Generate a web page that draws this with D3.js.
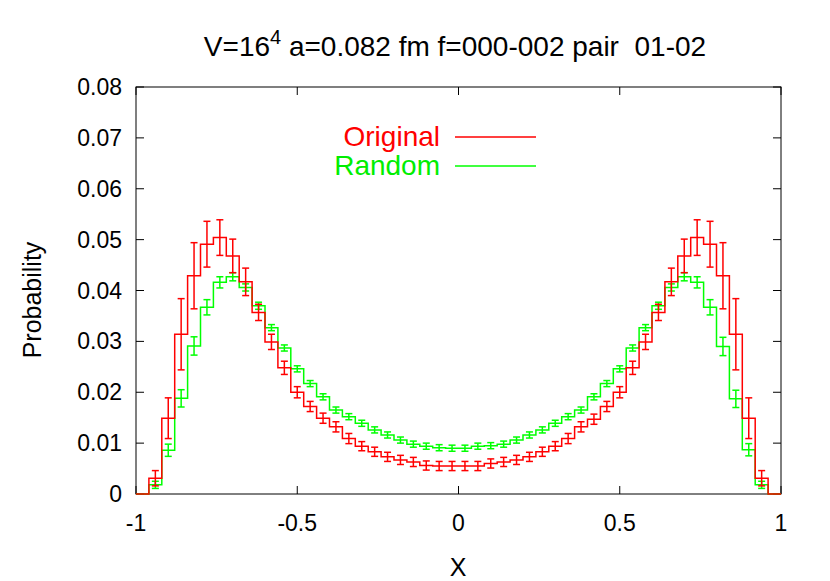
<!DOCTYPE html>
<html><head><meta charset="utf-8">
<script src="https://cdn.jsdelivr.net/npm/d3@7"></script>
<style>body{margin:0;background:#fff}svg{font-family:"Liberation Sans",Arial,sans-serif}</style>
</head><body><svg id="c" width="830" height="581"></svg>
<script>
var binEdges = d3.range(51).map(function (i) { return -1 + i * 0.04; });
var leftRed = [0, 0.0031, 0.0149, 0.0314, 0.0429, 0.0491, 0.0504, 0.0468, 0.0417, 0.0357, 0.0299, 0.0248, 0.0200, 0.0172, 0.0149, 0.0132, 0.0109, 0.0094, 0.0083, 0.0073, 0.0067, 0.0063, 0.0056, 0.0055, 0.0055];
var rightRed = [0.0055, 0.0055, 0.0060, 0.0063, 0.0067, 0.0073, 0.0083, 0.0094, 0.0109, 0.0132, 0.0147, 0.0172, 0.0200, 0.0248, 0.0299, 0.0357, 0.0417, 0.0468, 0.0504, 0.0491, 0.0429, 0.0314, 0.0149, 0.0031, 0];
var leftGreen = [0, 0.0018, 0.0086, 0.0188, 0.0291, 0.0367, 0.0416, 0.0427, 0.0406, 0.0370, 0.0327, 0.0287, 0.0246, 0.0217, 0.0191, 0.0165, 0.0152, 0.0139, 0.0126, 0.0116, 0.0106, 0.0098, 0.0094, 0.0091, 0.0090];
var rightGreen = [0.0090, 0.0094, 0.0095, 0.0098, 0.0106, 0.0116, 0.0126, 0.0139, 0.0152, 0.0165, 0.0191, 0.0217, 0.0246, 0.0287, 0.0327, 0.0370, 0.0406, 0.0427, 0.0416, 0.0367, 0.0290, 0.0187, 0.0087, 0.0018, 0];
var redErrLeft = [0, 0.0015, 0.004, 0.007, 0.0065, 0.0045, 0.0035, 0.0033, 0.0027, 0.0016, 0.0015, 0.0013, 0.0011, 0.001, 0.001, 0.001, 0.001, 0.0009, 0.0009, 0.0009, 0.0009, 0.0009, 0.0009, 0.0009, 0.0009];
var greenErrLeft = [0, 0.0007, 0.0012, 0.0017, 0.0018, 0.0015, 0.0011, 0.0008, 0.0007, 0.0007, 0.0006, 0.0006, 0.0006, 0.0006, 0.0006, 0.0006, 0.0006, 0.0006, 0.0006, 0.0006, 0.0006, 0.0006, 0.0006, 0.0006, 0.0006];
var xTicks = [-1, -0.5, 0, 0.5, 1];
var yTicks = [0, 0.01, 0.02, 0.03, 0.04, 0.05, 0.06, 0.07, 0.08];

var red = leftRed.concat(rightRed);
var green = leftGreen.concat(rightGreen);
var redErr = redErrLeft.concat(redErrLeft.slice().reverse());
var greenErr = greenErrLeft.concat(greenErrLeft.slice().reverse());

var svg = d3.select('#c');
var x = d3.scaleLinear().domain([-1, 1]).range([136, 781]);
var y = d3.scaleLinear().domain([0, 0.08]).range([494, 87]);

svg.append('rect').attr('x', 136).attr('y', 87).attr('width', 645).attr('height', 407)
  .attr('fill', 'none').attr('stroke', '#000').attr('stroke-width', 1);

xTicks.forEach(function (t) {
  svg.append('line').attr('x1', x(t)).attr('x2', x(t)).attr('y1', 494).attr('y2', 486).attr('stroke', '#000');
  svg.append('line').attr('x1', x(t)).attr('x2', x(t)).attr('y1', 87).attr('y2', 95).attr('stroke', '#000');
  svg.append('text').attr('x', x(t)).attr('y', 531).attr('text-anchor', 'middle').attr('font-size', 23).text(t);
});
yTicks.forEach(function (t) {
  svg.append('line').attr('x1', 136).attr('x2', 144).attr('y1', y(t)).attr('y2', y(t)).attr('stroke', '#000');
  svg.append('line').attr('x1', 781).attr('x2', 773).attr('y1', y(t)).attr('y2', y(t)).attr('stroke', '#000');
  svg.append('text').attr('x', 122).attr('y', y(t) + 8).attr('text-anchor', 'end').attr('font-size', 23)
    .text(t === 0 ? '0' : t.toFixed(2));
});

function stepPath(vals) {
  var d = 'M' + x(binEdges[0]) + ',' + y(vals[0]);
  vals.forEach(function (v, i) {
    d += 'V' + y(v) + 'H' + x(binEdges[i + 1]);
  });
  return d;
}

function drawSeries(vals, errs, color) {
  svg.append('path').attr('d', stepPath(vals)).attr('fill', 'none').attr('stroke', color).attr('stroke-width', 1.5);
  vals.forEach(function (v, i) {
    if (!errs[i]) return;
    var cx = x((binEdges[i] + binEdges[i + 1]) / 2);
    var y1 = y(v - errs[i]), y2 = y(v + errs[i]);
    svg.append('line').attr('x1', cx).attr('x2', cx).attr('y1', y1).attr('y2', y2).attr('stroke', color).attr('stroke-width', 1.5);
    [y1, y2].forEach(function (yy) {
      svg.append('line').attr('x1', cx - 3.5).attr('x2', cx + 3.5).attr('y1', yy).attr('y2', yy).attr('stroke', color).attr('stroke-width', 1.5);
    });
  });
}
drawSeries(green, greenErr, '#00ff00');
drawSeries(red, redErr, '#ff0000');

// legend
svg.append('text').attr('x', 440).attr('y', 146).attr('text-anchor', 'end').attr('font-size', 28).attr('fill', '#ff0000').text('Original');
svg.append('line').attr('x1', 455).attr('x2', 536).attr('y1', 137).attr('y2', 137).attr('stroke', '#ff0000').attr('stroke-width', 1.5);
svg.append('text').attr('x', 440).attr('y', 175).attr('text-anchor', 'end').attr('font-size', 28).attr('fill', '#00ee00').text('Random');
svg.append('line').attr('x1', 455).attr('x2', 536).attr('y1', 166).attr('y2', 166).attr('stroke', '#00ff00').attr('stroke-width', 1.5);

// title
var title = svg.append('text').attr('x', 455).attr('y', 56).attr('text-anchor', 'middle').attr('font-size', 28)
  .style('white-space', 'pre');
title.append('tspan').text('V=16');
title.append('tspan').attr('dy', -12).attr('font-size', 20).text('4');
title.append('tspan').attr('dy', 12).text(' a=0.082 fm f=000-002 pair  01-02');

svg.append('text').attr('x', 458).attr('y', 576).attr('text-anchor', 'middle').attr('font-size', 25).text('X');
svg.append('text').attr('transform', 'translate(41,300) rotate(-90)').attr('text-anchor', 'middle').attr('font-size', 25).text('Probability');
</script></body></html>
